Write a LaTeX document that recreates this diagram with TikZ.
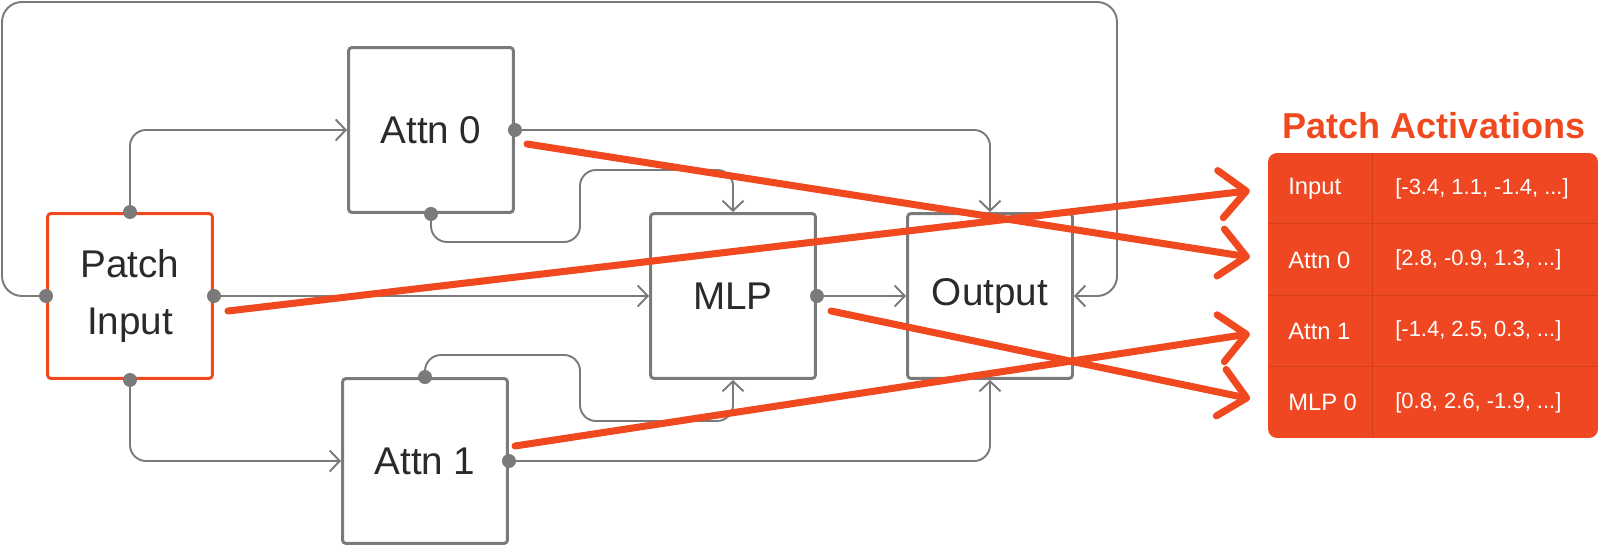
\documentclass[tikz,border=0pt]{standalone}
\usepackage{fontspec}
\setmainfont{Liberation Sans}
\usetikzlibrary{arrows.meta, calc}
\definecolor{linegray}{HTML}{7A7A7A}
\definecolor{patchred}{HTML}{F0481F}
\definecolor{cellred}{HTML}{EE4722}
\definecolor{sepred}{HTML}{D53D1B}
\definecolor{inkgray}{HTML}{2A2A2A}

\begin{document}
\begin{tikzpicture}[x=0.02cm,y=-0.02cm,
      blk/.style={rectangle,rounded corners=2pt,draw=linegray,line width=1.7pt,
            fill=white,minimum width=3.3cm,minimum height=3.3cm,text=inkgray,
            font=\fontsize{22}{32}\selectfont,align=center},
      wire/.style={draw=linegray,line width=1.1pt,rounded corners=0.32cm,
            -{Straight Barb[length=0.2cm,width=0.42cm]}},
      patch/.style={draw=patchred,line width=4pt,line cap=round,shorten >=0.36cm,
            -{Straight Barb[length=0.52cm,width=0.95cm,round]}},
      cell/.style={anchor=west,inner sep=0pt,text=white,
            font=\fontsize{12.5}{15}\selectfont},
      rowlbl/.style={cell,font=\fontsize{13.5}{16}\selectfont},
      sep/.style={draw=sepred,line width=0.6pt}]
      \useasboundingbox (0,0) rectangle (1600,547);
      % blocks
      \node[blk,draw=patchred] (pin)at(130,296) {Patch\\Input};
      \node[blk] (attn0)at(431,130) {Attn 0};
      \node[blk] (attn1)at(425,461) {Attn 1};
      \node[blk] (mlp)at(733,296)   {MLP};
      \node[blk] (out)at(990,296)   {Output};
      % wires
      \draw[wire] (pin.north) |- (attn0.west);
      \draw[wire] (pin.south) |- (attn1.west);
      \draw[wire] (pin.east) -- (mlp.west);
      \draw[wire,rounded corners=0.4cm] (pin.west) -| (2,2) -- (1117,2) |- (out.east);
      \draw[wire] (attn0.east) -| (out.north);
      \draw[wire] (attn0.south) |- (580,242) -- (580,170) -| (mlp.north);
      \draw[wire] (attn1.north) |- (580,355) -- (580,421) -| (mlp.south);
      \draw[wire] (attn1.east) -| (out.south);
      \draw[wire] (mlp.east) -- (out.west);
      \foreach \a in {pin.north,pin.south,pin.east,pin.west,attn0.east,attn0.south,
                      attn1.north,attn1.east,mlp.east}
            \fill[linegray] (\a) circle[radius=0.14cm];
      % table
      \node[font=\fontsize{20.5}{24}\selectfont\bfseries,text=patchred]
            (ttl)at(1434,126) {Patch Activations};
      \node[rectangle,rounded corners=0.18cm,fill=cellred,inner sep=0pt,
            minimum width=6.6cm,minimum height=5.7cm] (tab)at(1433,295.5) {};
      \draw[sep] (tab.north west) ++(105,0) -- ++(0,285);
      \foreach \k in {1,2,3}
            \draw[sep] (tab.north west) ++(0,{71.25*\k}) -- ++(330,0);
      \node[rowlbl] (rin)at(1288,188.6)  {Input};
      \node[cell]   (vin)at(1395,188.6)  {[-3.4, 1.1, -1.4, ...]};
      \node[rowlbl] (ra0)at(1288,259.9)  {Attn 0};
      \node[cell]   (va0)at(1395,259.9)  {[2.8, -0.9, 1.3, ...]};
      \node[rowlbl] (ra1)at(1288,331.1)  {Attn 1};
      \node[cell]   (va1)at(1395,331.1)  {[-1.4, 2.5, 0.3, ...]};
      \node[rowlbl] (rmlp)at(1288,402.4) {MLP 0};
      \node[cell]   (vmlp)at(1395,402.4) {[0.8, 2.6, -1.9, ...]};
      % patched activations
      \draw[patch] ([shift={(14,15)}]pin.east) -- (rin.west -| tab.west);
      \draw[patch] ([shift={(12,14)}]attn0.east) -- (ra0.west -| tab.west);
      \draw[patch] ([shift={(6,-15)}]attn1.east) -- (ra1.west -| tab.west);
      \draw[patch] ([shift={(14,15)}]mlp.east) -- (rmlp.west -| tab.west);
\end{tikzpicture}
\end{document}
